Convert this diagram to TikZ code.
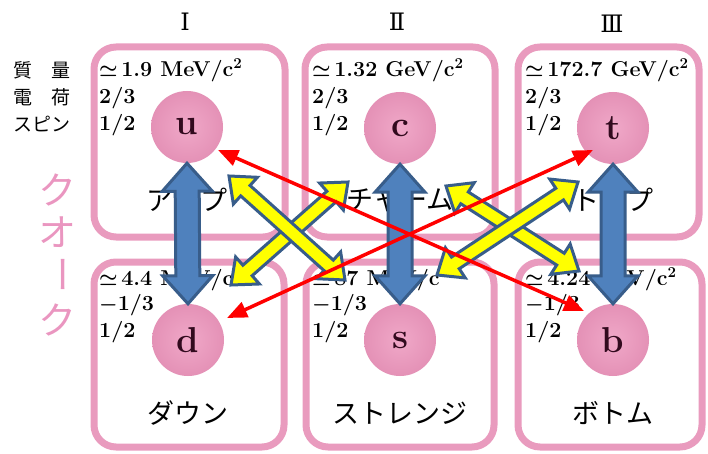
\documentclass[tikz,border=0pt]{standalone}
\usepackage{fontspec}
\usetikzlibrary{calc,arrows.meta}
\newfontfamily\jp{Noto Sans CJK JP}
\newfontfamily\rmn{DejaVu Serif}
\definecolor{pinkline}{RGB}{233,155,190}
\definecolor{pinktext}{RGB}{234,150,192}
\definecolor{ballin}{RGB}{240,168,200}
\definecolor{ballout}{RGB}{228,145,182}
\definecolor{letter}{RGB}{50,10,30}
\definecolor{bluefill}{RGB}{79,129,189}
\definecolor{blueedge}{RGB}{56,93,138}
\definecolor{yel}{RGB}{255,255,0}
\newcommand\fatarrow[6]{%
 \draw[#1] (#2) -- ($(#2)!#4!(#3)!#6!90:(#3)$) -- ($(#2)!#4!(#3)!#5!90:(#3)$)
 -- ($(#3)!#4!(#2)!#5!-90:(#2)$) -- ($(#3)!#4!(#2)!#6!-90:(#2)$) -- (#3)
 -- ($(#3)!#4!(#2)!#6!90:(#2)$) -- ($(#3)!#4!(#2)!#5!90:(#2)$)
 -- ($(#2)!#4!(#3)!#5!-90:(#3)$) -- ($(#2)!#4!(#3)!#6!-90:(#3)$) -- cycle;}
\tikzset{
 qbox/.style={draw=pinkline,line width=7pt,rounded corners=22pt,fill=white},
 ball/.style={circle,minimum size=72pt,inner sep=0pt,shading=radial,inner color=ballin,outer color=ballout,text=letter,font=\fontsize{36}{36}\selectfont\bfseries},
 prop/.style={anchor=west,inner sep=0pt,font=\fontsize{21.5}{21.5}\selectfont\bfseries\boldmath},
 lbl/.style={anchor=west,inner sep=0pt,font=\jp\fontsize{19}{19}\selectfont},
 qname/.style={inner sep=0pt,font=\jp\fontsize{27}{27}\selectfont},
 gen/.style={inner sep=0pt,font=\rmn\fontsize{24}{24}\selectfont},
 kana/.style={inner sep=0pt,text=pinktext,font=\jp\fontsize{38}{38}\selectfont},
 bluearrow/.style={fill=bluefill,draw=blueedge,line width=3pt,line join=miter},
 yelarrow/.style={fill=yel,draw=blueedge,line width=3pt,line join=miter},
 redarrow/.style={draw=red,line width=3.5pt,{Triangle[length=20pt,width=16pt]}-{Triangle[length=20pt,width=16pt]}}
}
\begin{document}
\begin{tikzpicture}[x=1pt,y=-1pt]
\useasboundingbox (0,0) rectangle (708,454);
% boxes
\node[qbox,minimum width=191pt,minimum height=190pt] (bu) at (189.5,142) {};
\node[qbox,minimum width=190pt,minimum height=190pt] (bc) at (400,142) {};
\node[qbox,minimum width=181pt,minimum height=190pt] (bt) at (608.5,142) {};
\node[qbox,minimum width=190pt,minimum height=185pt] (bd) at (189,354.5) {};
\node[qbox,minimum width=188pt,minimum height=185pt] (bs) at (400,354.5) {};
\node[qbox,minimum width=184pt,minimum height=185pt] (bb) at (610,354.5) {};
% generation numerals
\node[gen] (g1) at (185,22) {Ⅰ};
\node[gen] (g2) at (397,22) {Ⅱ};
\node[gen] (g3) at (612,24) {Ⅲ};
% row labels
\node[lbl] (l1) at (13,70) {質　量};
\node[lbl] (l2) at (13,97) {電　荷};
\node[lbl] (l3) at (13,124) {スピン};
% quark vertical
\node[kana] (k1) at (57,190) {ク};
\node[kana] (k2) at (57,232) {オ};
\node[kana,rotate=-90] (k3) at (57,274) {ー};
\node[kana] (k4) at (57,320) {ク};
% properties
\node[prop] (pu1) at (99,70) {$\simeq$\,1.9 MeV/c\textsuperscript{2}};
\node[prop] (pu2) at (99,98) {2/3};
\node[prop] (pu3) at (99,125) {1/2};
\node[prop] (pc1) at (312,70) {$\simeq$\,1.32 GeV/c\textsuperscript{2}};
\node[prop] (pc2) at (312,98) {2/3};
\node[prop] (pc3) at (312,125) {1/2};
\node[prop] (pt1) at (525,70) {$\simeq$\,172.7 GeV/c\textsuperscript{2}};
\node[prop] (pt2) at (525,98) {2/3};
\node[prop] (pt3) at (525,125) {1/2};
\node[prop] (pd1) at (99,279) {$\simeq$\,4.4 MeV/c\textsuperscript{2}};
\node[prop] (pd2) at (99,305) {$-$1/3};
\node[prop] (pd3) at (99,332) {1/2};
\node[prop] (ps1) at (312,279) {$\simeq$\,87 MeV/c\textsuperscript{2}};
\node[prop] (ps2) at (312,305) {$-$1/3};
\node[prop] (ps3) at (312,332) {1/2};
\node[prop] (pb1) at (525,279) {$\simeq$\,4.24 GeV/c\textsuperscript{2}};
\node[prop] (pb2) at (525,305) {$-$1/3};
\node[prop] (pb3) at (525,332) {1/2};
% names
\node[qname] (nu) at (187,200) {アップ};
\node[qname] (nc) at (400,200) {チャーム};
\node[qname] (nt) at (613,200) {トップ};
\node[qname] (nd) at (188,413) {ダウン};
\node[qname] (ns) at (400,413) {ストレンジ};
\node[qname] (nb) at (613,413) {ボトム};
% balls
\node[ball] (u) at (187,127) {u};
\node[ball] (c) at (400,128) {c};
\node[ball] (t) at (613,128) {t};
\node[ball] (d) at (188,340) {d};
\node[ball] (s) at (400,340) {s};
\node[ball] (b) at (613,340) {b};
% blue double arrows
\fatarrow{bluearrow}{u.south}{d.north}{28pt}{12pt}{25pt}
\fatarrow{bluearrow}{c.south}{s.north}{28pt}{12pt}{25pt}
\fatarrow{bluearrow}{t.south}{b.north}{28pt}{12pt}{25pt}
% yellow double arrows
\coordinate (ya1) at (229,176); \coordinate (ya2) at (345,280);
\coordinate (yb1) at (348,182); \coordinate (yb2) at (231,285);
\coordinate (yc1) at (446,186); \coordinate (yc2) at (579,271);
\coordinate (yd1) at (578,182); \coordinate (yd2) at (437,275);
\fatarrow{yelarrow}{yb1}{yb2}{22pt}{7pt}{18pt}
\fatarrow{yelarrow}{ya1}{ya2}{22pt}{7pt}{18pt}
\fatarrow{yelarrow}{yc1}{yc2}{22pt}{7pt}{18pt}
\fatarrow{yelarrow}{yd1}{yd2}{22pt}{7pt}{18pt}
% red arrows
\coordinate (r1a) at (218,150); \coordinate (r1b) at (584,311);
\coordinate (r2a) at (227,318); \coordinate (r2b) at (593,150);
\draw[redarrow] (r1a) -- (r1b);
\draw[redarrow] (r2a) -- (r2b);
\end{tikzpicture}
\end{document}
